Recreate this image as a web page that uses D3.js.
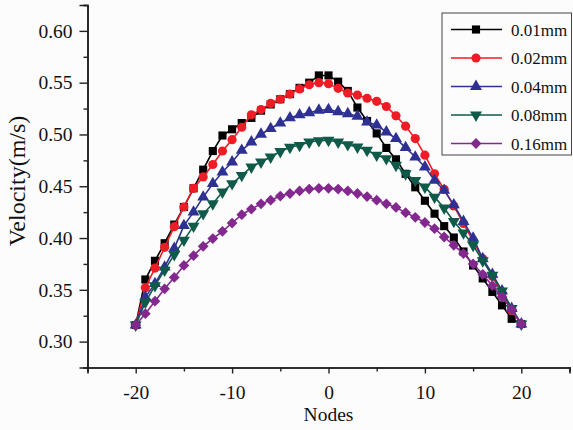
<!DOCTYPE html>
<html>
<head>
<meta charset="utf-8">
<script src="https://cdn.jsdelivr.net/npm/d3@7"></script>
<style>
  html, body { margin: 0; padding: 0; background: #fcfcfc; }
  svg { display: block; }
  text { font-family: "Liberation Serif", "Times New Roman", serif; fill: #111; }
</style>
</head>
<body>
<svg id="chart" width="573" height="430"></svg>
<script>
// node index along the x axis
const nodes = d3.range(-20, 21)

// velocity (m/s) for each gap size
const v001 = [0.316, 0.360, 0.378, 0.395, 0.413, 0.430, 0.448, 0.466, 0.484, 0.499, 0.505,
  0.511, 0.516, 0.523, 0.529, 0.534, 0.539, 0.545, 0.550, 0.557, 0.557,
  0.551, 0.542, 0.526, 0.513, 0.501, 0.487, 0.476, 0.462, 0.449, 0.436,
  0.4235, 0.4115, 0.4005, 0.387, 0.3735, 0.361, 0.348, 0.335, 0.322, 0.317]
const v002 = [0.316, 0.352, 0.371, 0.391, 0.411, 0.430, 0.448, 0.459, 0.471, 0.484, 0.495,
  0.507, 0.519, 0.524, 0.530, 0.534, 0.539, 0.544, 0.548, 0.550, 0.549,
  0.5445, 0.540, 0.538, 0.535, 0.532, 0.527, 0.518, 0.508, 0.496, 0.480,
  0.462, 0.447, 0.431, 0.414, 0.397, 0.380, 0.363, 0.346, 0.330, 0.317]
const v004 = [0.316, 0.343, 0.356, 0.372, 0.390, 0.412, 0.425, 0.4395, 0.4525, 0.4637, 0.4734,
  0.4847, 0.4927, 0.5002, 0.5057, 0.511, 0.516, 0.519, 0.521, 0.5234, 0.524,
  0.522, 0.520, 0.5176, 0.512, 0.509, 0.5024, 0.496, 0.4873, 0.4782, 0.4686,
  0.4557, 0.446, 0.432, 0.416, 0.400, 0.380, 0.365, 0.349, 0.332, 0.317]
const v008 = [0.316, 0.338, 0.354, 0.369, 0.384, 0.398, 0.4115, 0.4235, 0.4331, 0.4444, 0.4525,
  0.4605, 0.4686, 0.4734, 0.4782, 0.4835, 0.4876, 0.4895, 0.4927, 0.494, 0.4944,
  0.4927, 0.4902, 0.4879, 0.4847, 0.480, 0.4767, 0.4702, 0.462, 0.4557, 0.4492,
  0.4395, 0.429, 0.416, 0.405, 0.393, 0.378, 0.364, 0.349, 0.332, 0.317]
const v016 = [0.316, 0.327, 0.339, 0.351, 0.362, 0.3735, 0.383, 0.392, 0.3995, 0.4065, 0.4145,
  0.4225, 0.428, 0.433, 0.4365, 0.4405, 0.443, 0.4455, 0.4473, 0.448, 0.448,
  0.4473, 0.4455, 0.443, 0.440, 0.4365, 0.433, 0.4295, 0.4245, 0.420, 0.415,
  0.409, 0.401, 0.393, 0.385, 0.375, 0.365, 0.354, 0.343, 0.331, 0.317]

const seriesNames = ["0.01mm", "0.02mm", "0.04mm", "0.08mm", "0.16mm"]
const seriesValues = [v001, v002, v004, v008, v016]
const seriesColors = ["#000000", "#ee1c24", "#2e3192", "#0f5a48", "#83288f"]

const xTicks = [-20, -10, 0, 10, 20]
const xMinorTicks = [-25, -15, -5, 5, 15, 25]
const yTicks = [0.30, 0.35, 0.40, 0.45, 0.50, 0.55, 0.60]
const yMinorTicks = [0.275, 0.325, 0.375, 0.425, 0.475, 0.525, 0.575, 0.625]

const svg = d3.select("#chart")

const xScale = d3.scaleLinear().domain([-25, 25]).range([87.5, 569.5])
const yScale = d3.scaleLinear().domain([0.275, 0.625]).range([367.5, 5])

// marker shapes (square, circle, up triangle, down triangle, diamond)
const markers = [
  { type: d3.symbolSquare, size: 66, rot: 0 },
  { type: d3.symbolCircle, size: 66, rot: 0 },
  { type: d3.symbolTriangle, size: 62, rot: 0 },
  { type: d3.symbolTriangle, size: 62, rot: 180 },
  { type: d3.symbolSquare, size: 58, rot: 45 },
]

/**
 * axes
 */
const g_x = svg.append("g").attr("transform", `translate(0,${yScale.range()[0]})`)
g_x.call(d3.axisBottom(xScale).tickValues(xTicks).tickSize(6).tickPadding(12).tickFormat((d) => String(d)))
g_x.append("g").call(d3.axisBottom(xScale).tickValues(xMinorTicks).tickSize(4).tickFormat(""))

const g_y = svg.append("g").attr("transform", `translate(${xScale.range()[0]},0)`)
g_y.call(d3.axisLeft(yScale).tickValues(yTicks).tickSize(8).tickPadding(7).tickFormat(d3.format(".2f")))
g_y.append("g").call(d3.axisLeft(yScale).tickValues(yMinorTicks).tickSize(4).tickFormat(""))

svg.selectAll(".domain").attr("stroke", "#222").attr("stroke-width", 1.6)
svg.selectAll(".tick line").attr("stroke", "#222").attr("stroke-width", 1.4)
svg.selectAll(".tick text").attr("font-size", 19.5).attr("fill", "#111")
  .attr("font-family", "Liberation Serif, serif")

svg.append("text")
  .attr("x", xScale(0))
  .attr("y", 421)
  .attr("text-anchor", "middle")
  .attr("font-size", 19.5)
  .text("Nodes")

svg.append("text")
  .attr("transform", "translate(25,181) rotate(-90)")
  .attr("text-anchor", "middle")
  .attr("font-size", 24)
  .text("Velocity(m/s)")

/**
 * series lines and markers
 */
const line = d3.line().x((d) => xScale(d[0])).y((d) => yScale(d[1]))

seriesValues.forEach((vals, i) => {
  const pts = nodes.map((n, j) => [n, vals[j]])
  const g = svg.append("g").attr("class", "series")
  g.append("path")
    .datum(pts)
    .attr("fill", "none")
    .attr("stroke", seriesColors[i])
    .attr("stroke-width", 1.6)
    .attr("d", line)
  const sym = d3.symbol().type(markers[i].type).size(markers[i].size)
  g.selectAll("path.mk")
    .data(pts)
    .enter()
    .append("path")
    .attr("class", "mk")
    .attr("d", sym)
    .attr("fill", seriesColors[i])
    .attr("transform", (d) => `translate(${xScale(d[0])},${yScale(d[1])}) rotate(${markers[i].rot})`)
})

/**
 * legend
 */
const legend = svg.append("g").attr("transform", "translate(442,13)")
legend.append("rect")
  .attr("width", 129.5)
  .attr("height", 142)
  .attr("fill", "#fcfcfc")
  .attr("stroke", "#444")
  .attr("stroke-width", 1)

const items = legend.selectAll(".legend_item")
  .data(seriesNames)
  .enter()
  .append("g")
  .attr("class", "legend_item")
  .attr("transform", (d, i) => `translate(0,${16.5 + i * 28.5})`)

items.append("line")
  .attr("x1", 9).attr("x2", 60)
  .attr("stroke", (d, i) => seriesColors[i])
  .attr("stroke-width", 1.4)

items.append("path")
  .attr("d", (d, i) => d3.symbol().type(markers[i].type).size(markers[i].size)())
  .attr("transform", (d, i) => `translate(34,0) rotate(${markers[i].rot})`)
  .attr("fill", (d, i) => seriesColors[i])

items.append("text")
  .attr("x", 69)
  .attr("y", 6)
  .attr("font-size", 17)
  .text((d) => d)
</script>
</body>
</html>
